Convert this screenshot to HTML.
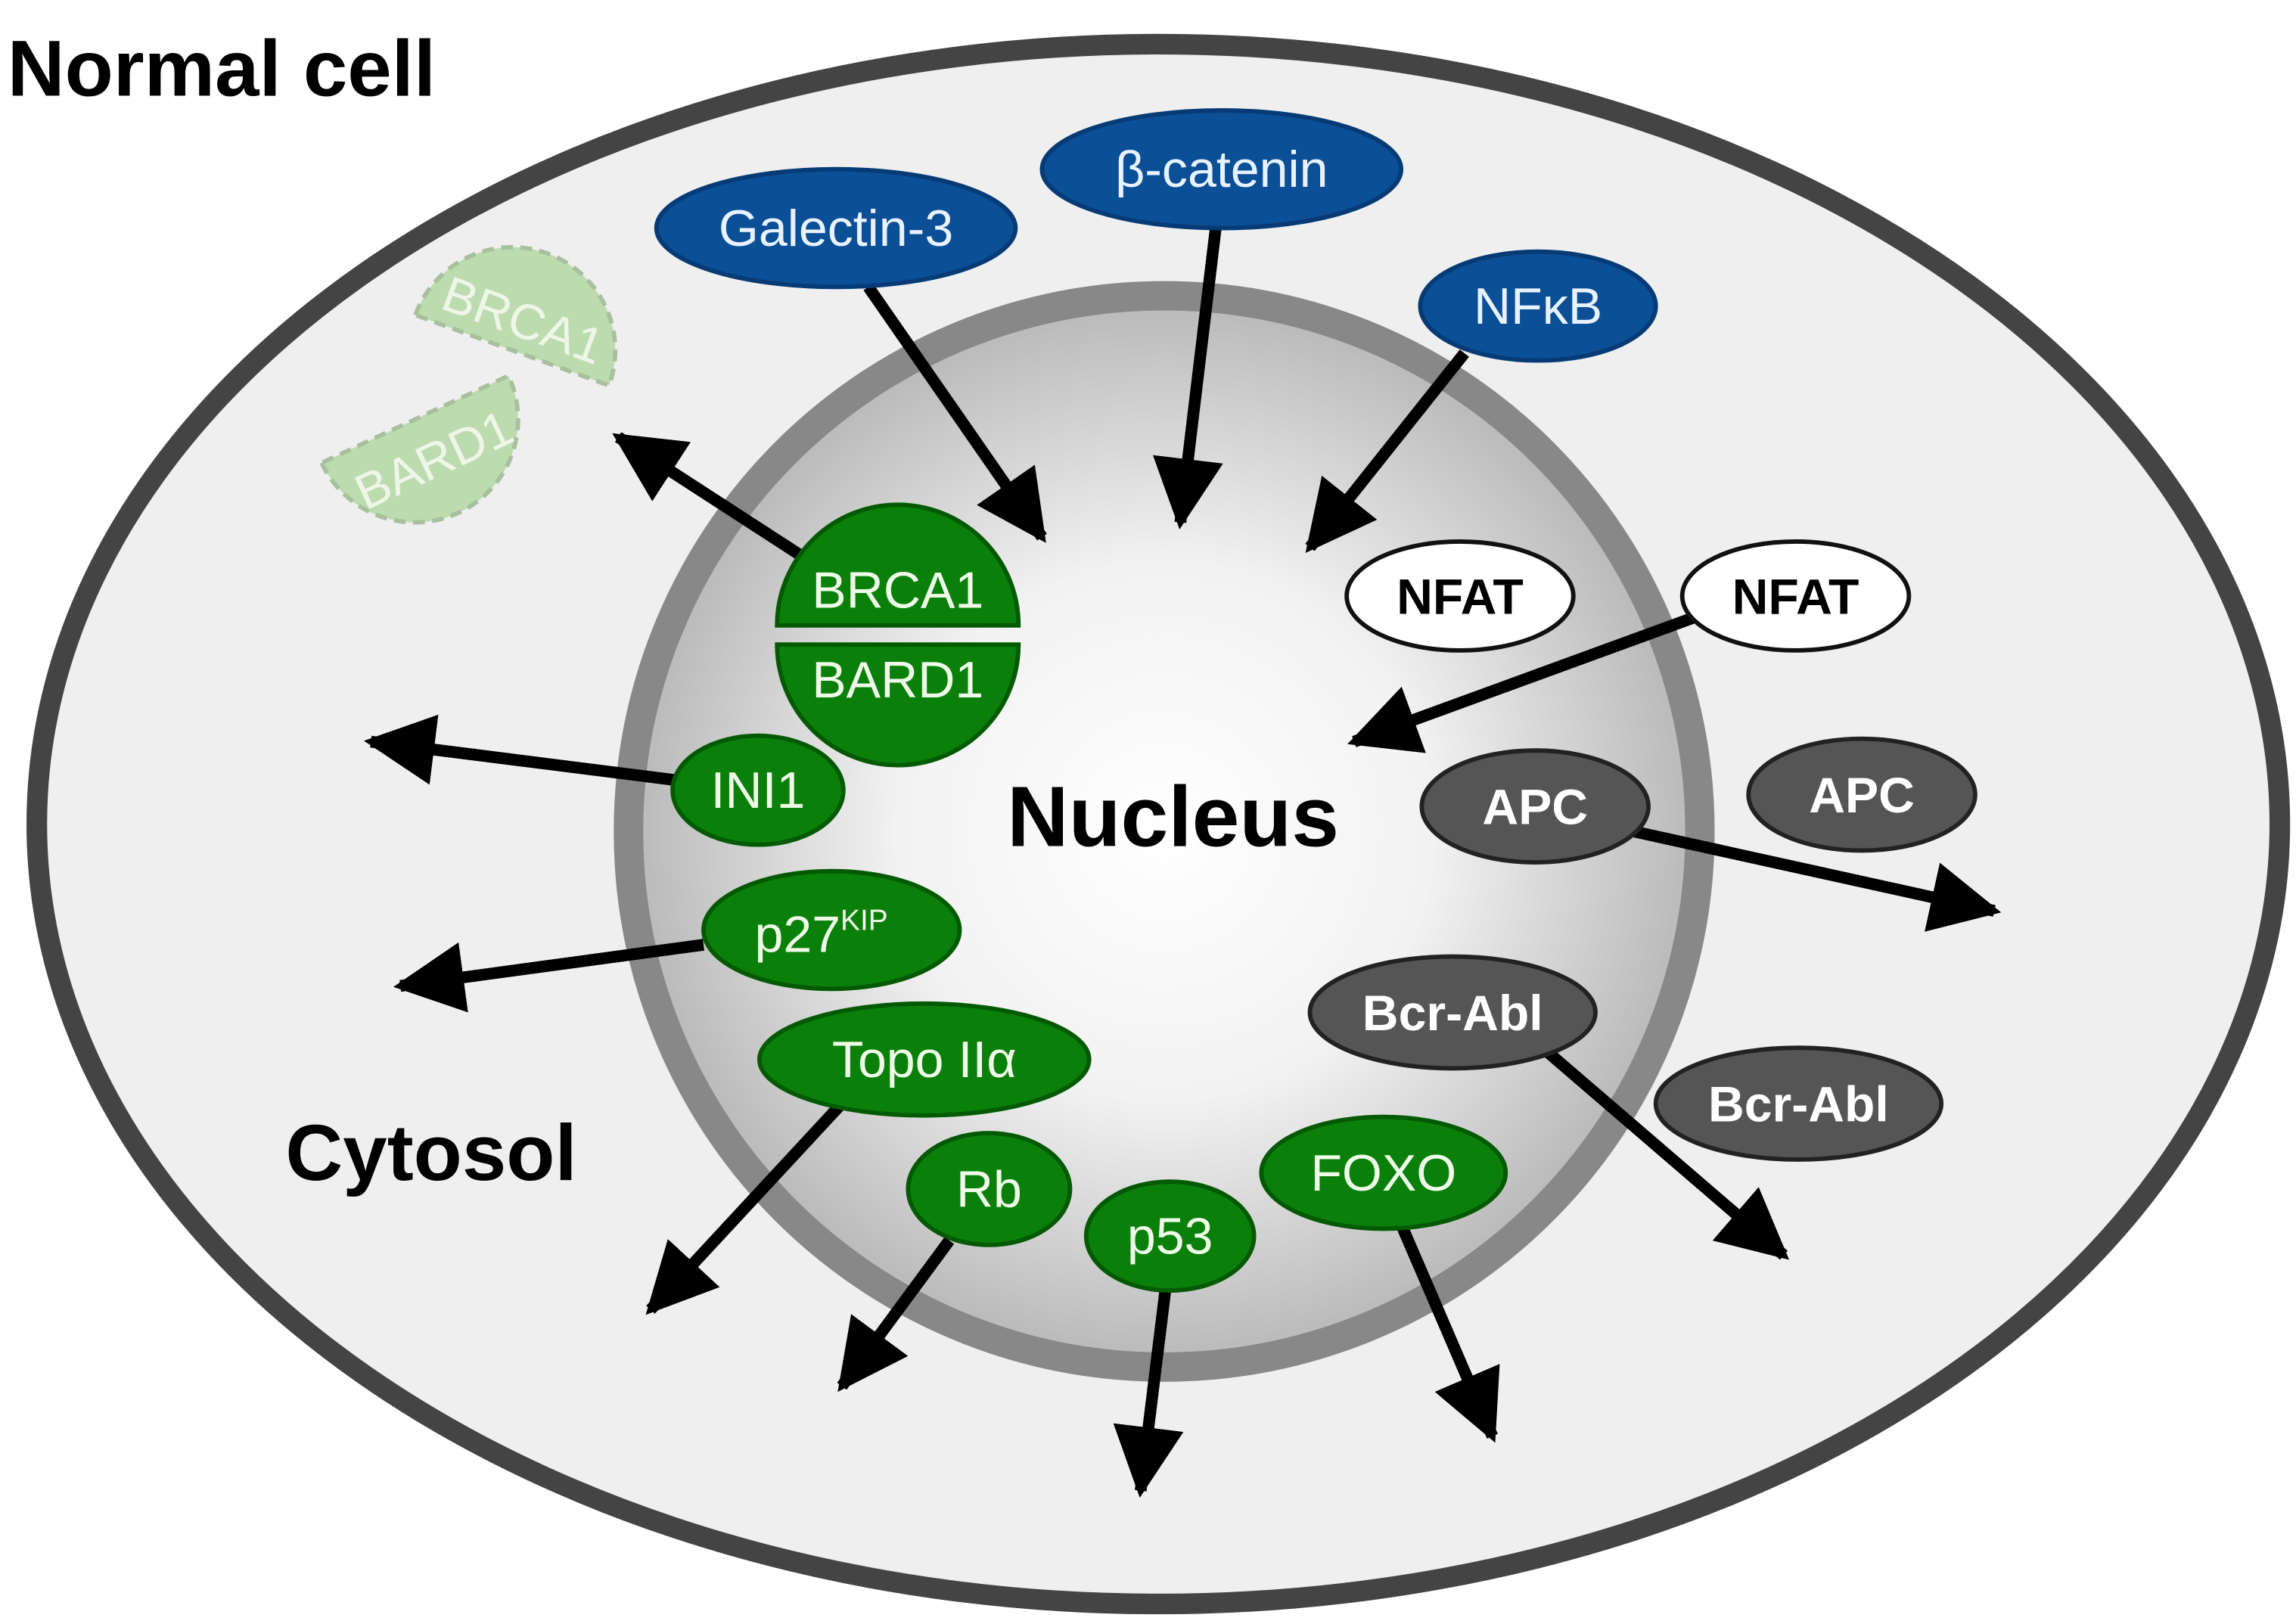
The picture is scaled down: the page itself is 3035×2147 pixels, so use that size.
<!DOCTYPE html>
<html><head><meta charset="utf-8"><style>html,body{margin:0;padding:0;background:#fff}svg{display:block}</style></head>
<body>
<svg width="3035" height="2147" viewBox="0 0 1560 1103.6" preserveAspectRatio="none" xmlns="http://www.w3.org/2000/svg" font-family="Liberation Sans, sans-serif">
<defs>
<radialGradient id="nuc" cx="50%" cy="50%" r="50%">
<stop offset="0" stop-color="#ffffff"/><stop offset="0.5" stop-color="#f2f2f2"/><stop offset="1" stop-color="#b8b8b8"/>
</radialGradient>
<marker id="ah" viewBox="0 0 10 10" refX="9" refY="5" markerWidth="6" markerHeight="6" markerUnits="strokeWidth" orient="auto">
<path d="M0,0 L10,5 L0,10 z" fill="#000"/></marker>
</defs>
<rect width="1560" height="1104" fill="#fff"/>
<ellipse cx="787" cy="560" rx="762" ry="530" fill="#efefef" stroke="#444" stroke-width="14"/>
<circle cx="791" cy="565" r="364" fill="url(#nuc)" stroke="#888" stroke-width="20"/>
<text x="5" y="65" font-size="54" font-weight="bold">Normal cell</text>
<text x="797" y="575" font-size="58" font-weight="bold" text-anchor="middle">Nucleus</text>
<text x="293" y="802" font-size="54" font-weight="bold" text-anchor="middle">Cytosol</text>

<g transform="translate(348,238) rotate(20)">
<path d="M-70,0 A70,70 0 0 1 70,0 Z" fill="#bcdcb0" stroke="#a8c09e" stroke-width="3" stroke-dasharray="8,5"/>
<text x="0" y="-10" font-size="34" fill="#eef6e8" text-anchor="middle">BRCA1</text></g>
<g transform="translate(282,285) rotate(-25)">
<path d="M-70,0 A70,70 0 0 0 70,0 Z" fill="#bcdcb0" stroke="#a8c09e" stroke-width="3" stroke-dasharray="8,5"/>
<text x="0" y="42" font-size="34" fill="#eef6e8" text-anchor="middle">BARD1</text></g>

<g stroke="#000" stroke-width="8" fill="none" marker-end="url(#ah)">
<line x1="590" y1="195" x2="708" y2="365"/>
<line x1="826" y1="155" x2="802" y2="355"/>
<line x1="995" y1="240" x2="890" y2="372"/>
<line x1="548" y1="380" x2="420" y2="297"/>
<line x1="458" y1="530" x2="252" y2="504"/>
<line x1="478" y1="642" x2="272" y2="670"/>
<line x1="1150" y1="420" x2="920" y2="504"/>
<line x1="1110" y1="565" x2="1355" y2="619"/>
<line x1="1040" y1="705" x2="1212" y2="853"/>
<line x1="570" y1="752" x2="442" y2="890"/>
<line x1="645" y1="843" x2="572" y2="942"/>
<line x1="792" y1="875" x2="775" y2="1013"/>
<line x1="952" y1="832" x2="1014" y2="976"/>
</g>

<g stroke="#063b75" stroke-width="3" fill="#0b4f96">
<ellipse cx="568" cy="155" rx="122" ry="40"/>
<ellipse cx="830" cy="115" rx="122" ry="40"/>
<ellipse cx="1045" cy="208" rx="80" ry="37"/>
</g>
<g fill="#e8f2ff" font-size="35" text-anchor="middle">
<text x="568" y="167">Galectin-3</text>
<text x="830" y="127">β-catenin</text>
<text x="1045" y="220">NFκB</text>
</g>

<g stroke="#035a03" stroke-width="3" fill="#0a800a">
<path d="M528,425 A82,82 0 0 1 692,425 Z"/>
<path d="M528,438 A82,82 0 0 0 692,438 Z"/>
<ellipse cx="515" cy="537" rx="58" ry="37"/>
<ellipse cx="565" cy="632" rx="87" ry="40"/>
<ellipse cx="628" cy="720" rx="112" ry="38"/>
<ellipse cx="672" cy="808" rx="55" ry="38"/>
<ellipse cx="795" cy="840" rx="57" ry="37"/>
<ellipse cx="940" cy="797" rx="83" ry="38"/>
</g>
<g fill="#eefbe8" font-size="35" text-anchor="middle">
<text x="610" y="413">BRCA1</text>
<text x="610" y="474">BARD1</text>
<text x="515" y="549">INI1</text>
<text x="558" y="647">p27<tspan font-size="20" dy="-15">KIP</tspan></text>
<text x="628" y="732">Topo IIα</text>
<text x="672" y="820">Rb</text>
<text x="795" y="852">p53</text>
<text x="940" y="809">FOXO</text>
</g>

<g stroke="#111" stroke-width="3" fill="#fff">
<ellipse cx="992" cy="405" rx="77" ry="37"/>
<ellipse cx="1220" cy="405" rx="77" ry="37"/>
</g>
<g fill="#000" font-size="34" font-weight="bold" text-anchor="middle">
<text x="992" y="417">NFAT</text><text x="1220" y="417">NFAT</text></g>

<g stroke="#222" stroke-width="3" fill="#555">
<ellipse cx="1043" cy="548" rx="77" ry="38"/>
<ellipse cx="1265" cy="540" rx="77" ry="38"/>
<ellipse cx="987" cy="688" rx="97" ry="38"/>
<ellipse cx="1222" cy="750" rx="97" ry="38"/>
</g>
<g fill="#fff" font-size="34" font-weight="bold" text-anchor="middle">
<text x="1043" y="560">APC</text><text x="1265" y="552">APC</text>
<text x="987" y="700">Bcr-Abl</text><text x="1222" y="762">Bcr-Abl</text></g>
</svg>
</body></html>
